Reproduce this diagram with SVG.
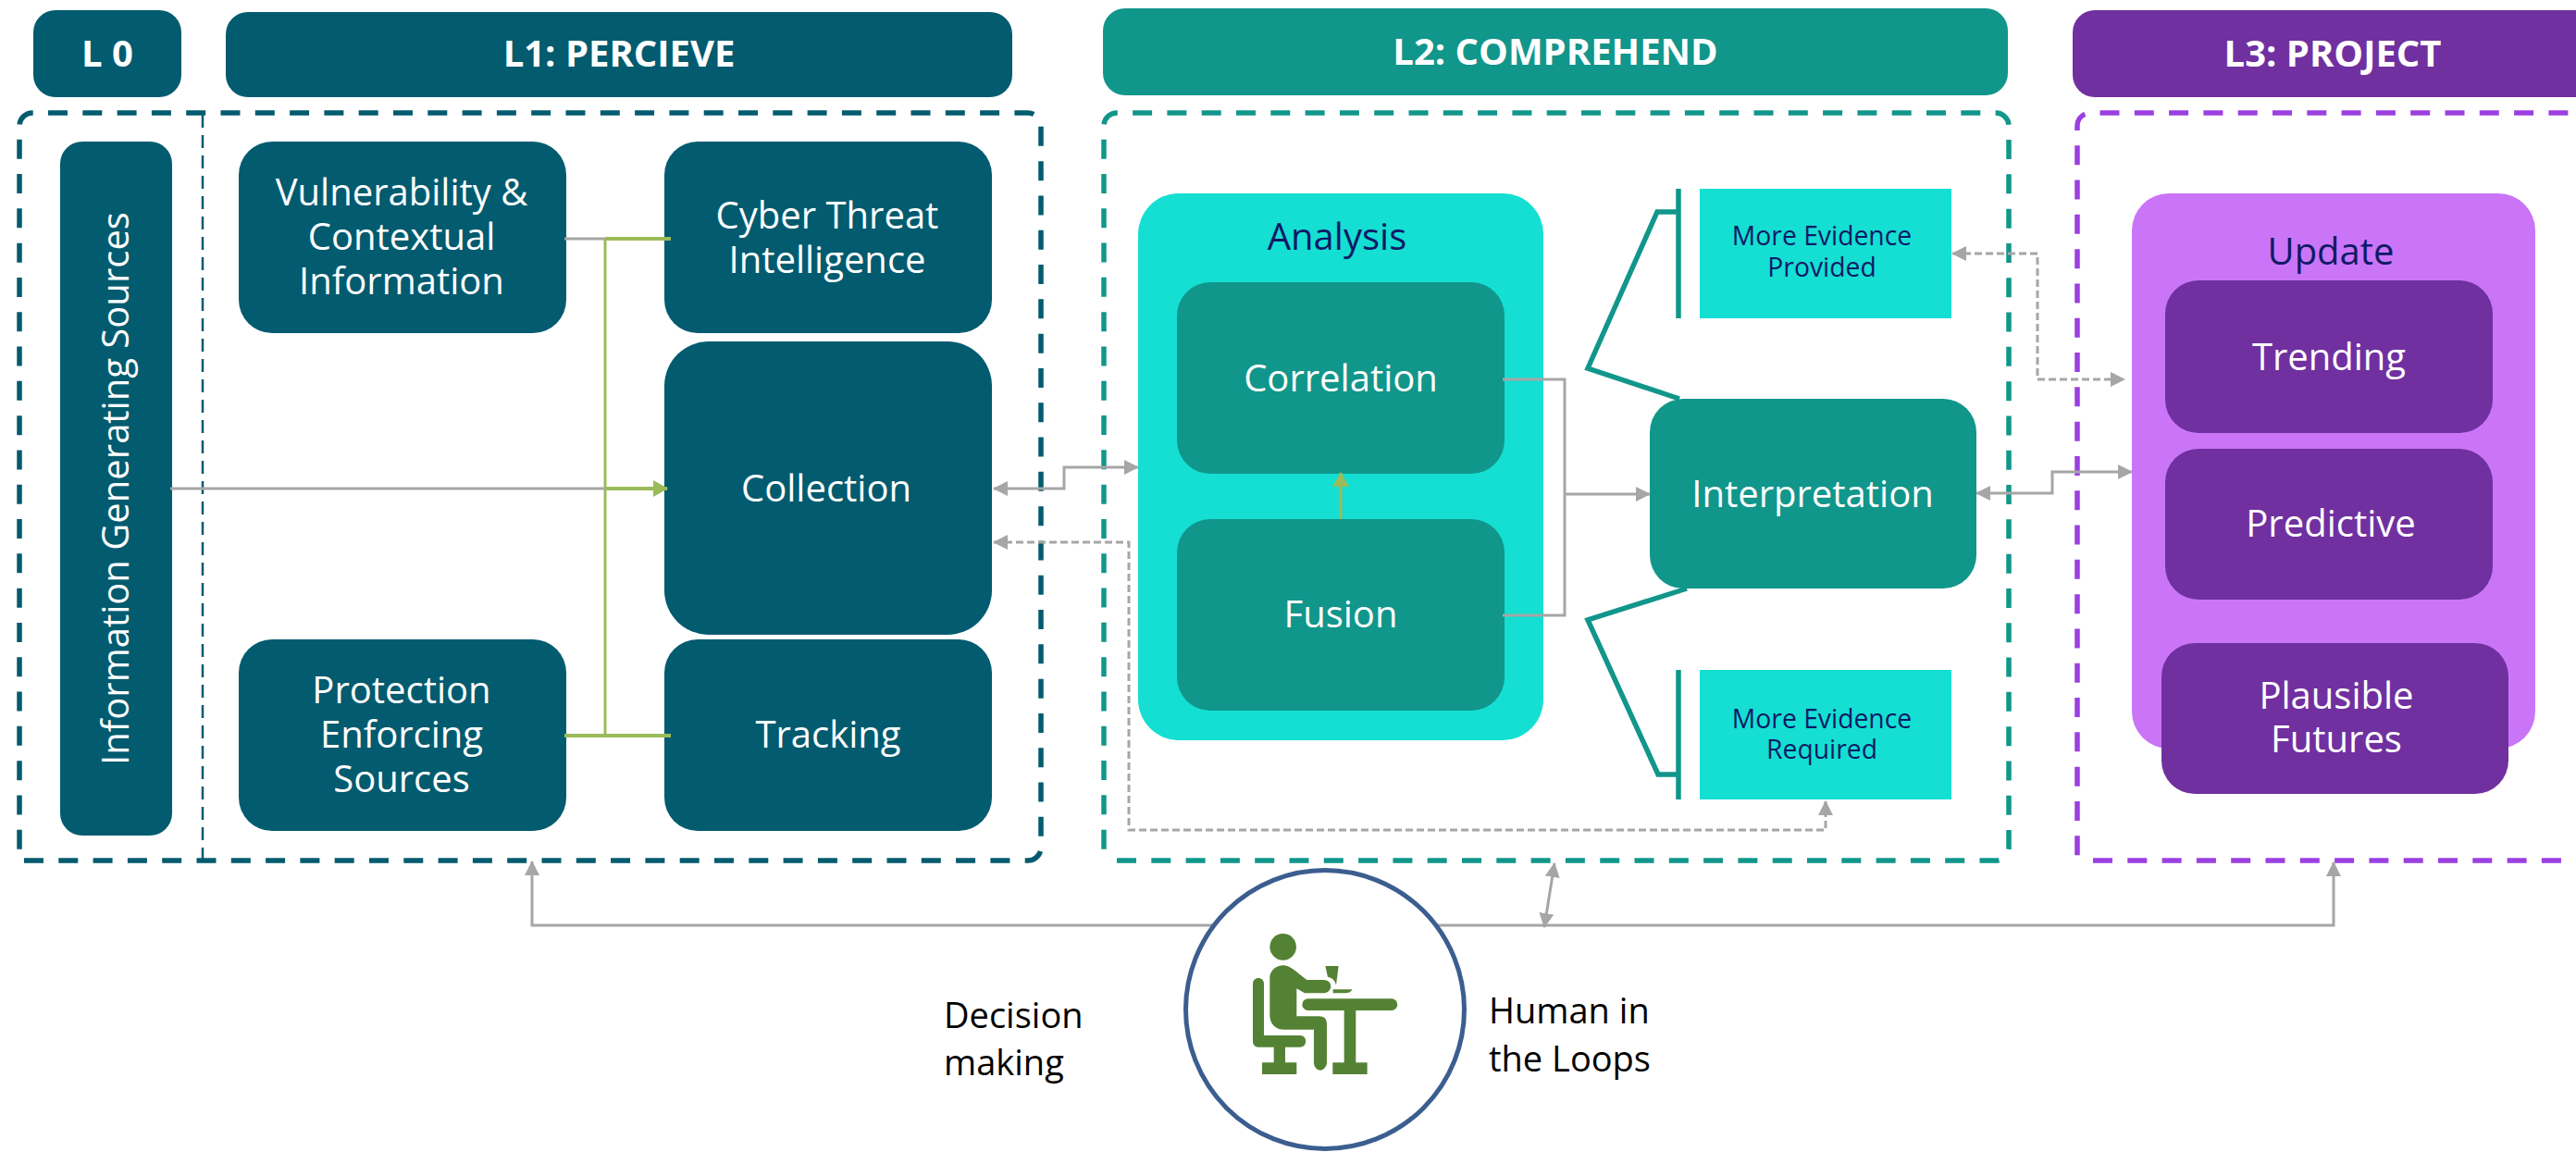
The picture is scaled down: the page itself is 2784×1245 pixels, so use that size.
<svg xmlns="http://www.w3.org/2000/svg" width="2784" height="1245" viewBox="0 0 2784 1245">
<style>
text{font-family:"Open Sans","Noto Sans","Liberation Sans",sans-serif;text-anchor:middle}
.w{fill:#fff;font-size:40px}
.h{fill:#fff;font-size:40px;font-weight:700}
.n{fill:#0f1a66;font-size:28.3px}
.m{fill:#0f1a66;font-size:40px}
.b{fill:#000;font-size:38px;text-anchor:start}
.c1{fill:#025b6f}.c2{fill:#11968b}.c3{fill:#7030a0}.t{fill:#14dfd2}.p{fill:#ca75f7}
.g{fill:none;stroke:#a6a6a6;stroke-width:3}
.d{fill:none;stroke:#a6a6a6;stroke-width:3;stroke-dasharray:8 4}
.l{fill:none;stroke:#9bbb59;stroke-width:3}
.lt{fill:none;stroke:#9bbb59;stroke-width:4}
.box{fill:none;stroke-width:5.5;stroke-dasharray:21 16.3}
.ic{fill:#548235}
</style>
<defs>
<marker id="a" markerWidth="16" markerHeight="16" refX="15" refY="8" orient="auto-start-reverse" markerUnits="userSpaceOnUse"><path d="M0 0L16 8L0 16z" fill="#a6a6a6"/></marker>
<marker id="gr" markerWidth="16" markerHeight="18" refX="15" refY="9" orient="auto" markerUnits="userSpaceOnUse"><path d="M0 0L16 9L0 18z" fill="#9bbb59"/></marker>
</defs>
<rect width="2784" height="1245" fill="#fff"/>

<g id="containers">
<path class="box" d="M26 930H1111A14 14 0 0 0 1125 916V136A14 14 0 0 0 1111 122H35A14 14 0 0 0 21 136V925" stroke="#025b6f"/>
<path class="box" d="M1207 930H2157A14 14 0 0 0 2171 916V136A14 14 0 0 0 2157 122H1207A14 14 0 0 0 1193 136V925" stroke="#11968b"/>
<path class="box" d="M2262 930H2850M2850 122H2259A14 14 0 0 0 2245 136V925" stroke="#9b3fe0"/>
<line x1="219" y1="124" x2="219" y2="930" stroke="#025b6f" stroke-width="2.5" stroke-dasharray="14 8"/>
</g>

<g id="header-l0"><rect class="c1" x="36" y="11" width="160" height="94" rx="24"/><text class="h" x="116" y="72">L 0</text></g>
<g id="header-l1"><rect class="c1" x="244" y="13" width="850" height="92" rx="24"/><text class="h" x="669" y="72">L1: PERCIEVE</text></g>
<g id="header-l2"><rect class="c2" x="1192" y="9" width="978" height="94" rx="24"/><text class="h" x="1681" y="70">L2: COMPREHEND</text></g>
<g id="header-l3"><rect class="c3" x="2240" y="11" width="600" height="94" rx="24"/><text class="h" x="2521" y="72">L3: PROJECT</text></g>

<g id="info-sources"><rect class="c1" x="65" y="153" width="121" height="750" rx="24"/><text class="w" transform="translate(139,528) rotate(-90)">Information Generating Sources</text></g>
<g id="vulnerability"><rect class="c1" x="258" y="153" width="354" height="207" rx="36"/><text class="w"><tspan x="434" y="222">Vulnerability &amp;</tspan><tspan x="434" y="270">Contextual</tspan><tspan x="434" y="318">Information</tspan></text></g>
<g id="cti"><rect class="c1" x="718" y="153" width="354" height="207" rx="36"/><text class="w"><tspan x="894" y="247">Cyber Threat</tspan><tspan x="894" y="295">Intelligence</tspan></text></g>
<g id="collection"><rect class="c1" x="718" y="369" width="354" height="317" rx="48"/><text class="w" x="893" y="542">Collection</text></g>
<g id="protection"><rect class="c1" x="258" y="691" width="354" height="207" rx="36"/><text class="w"><tspan x="434" y="760">Protection</tspan><tspan x="434" y="808">Enforcing</tspan><tspan x="434" y="856">Sources</tspan></text></g>
<g id="tracking"><rect class="c1" x="718" y="691" width="354" height="207" rx="36"/><text class="w" x="895" y="808">Tracking</text></g>

<g id="analysis"><rect class="t" x="1230" y="209" width="438" height="591" rx="44"/><text class="m" x="1445" y="270">Analysis</text></g>
<g id="correlation"><rect class="c2" x="1272" y="305" width="354" height="207" rx="36"/><text class="w" x="1449" y="423">Correlation</text></g>
<g id="fusion"><rect class="c2" x="1272" y="561" width="354" height="207" rx="36"/><text class="w" x="1449" y="678">Fusion</text></g>
<g id="interpretation"><rect class="c2" x="1783" y="431" width="353" height="205" rx="36"/><text class="w" x="1959" y="548">Interpretation</text></g>
<g id="evidence-provided"><rect class="t" x="1837" y="204" width="272" height="140"/><text class="n"><tspan x="1969" y="265">More Evidence</tspan><tspan x="1969" y="299">Provided</tspan></text></g>
<g id="evidence-required"><rect class="t" x="1837" y="724" width="272" height="140"/><text class="n"><tspan x="1969" y="787">More Evidence</tspan><tspan x="1969" y="820">Required</tspan></text></g>

<g id="update"><rect class="p" x="2304" y="209" width="436" height="600" rx="40"/><text class="m" x="2519" y="286">Update</text></g>
<g id="trending"><rect class="c3" x="2340" y="303" width="354" height="165" rx="36"/><text class="w" x="2517" y="400">Trending</text></g>
<g id="predictive"><rect class="c3" x="2340" y="485" width="354" height="163" rx="36"/><text class="w" x="2519" y="580">Predictive</text></g>
<g id="plausible"><rect class="c3" x="2336" y="695" width="375" height="163" rx="36"/><text class="w"><tspan x="2525" y="766">Plausible</tspan><tspan x="2525" y="813">Futures</tspan></text></g>

<g id="callouts" fill="none" stroke="#11968b" stroke-width="5.5">
<path d="M1814 204V344M1814 229H1791L1716 398L1815 431"/>
<path d="M1814 724V864M1814 837H1792L1716 670L1823 636"/>
</g>

<g id="connectors">
<path class="g" d="M610 258H654"/><path class="l" d="M654 258V795"/><path class="lt" d="M654 258H725M610 795H725"/>
<path class="g" d="M184 528H654"/><path class="lt" d="M654 528H721" marker-end="url(#gr)"/>
<path class="g" d="M1074 528H1150V505H1230" marker-start="url(#a)" marker-end="url(#a)"/>
<path class="d" d="M1074 586H1220V897H1973V866" marker-start="url(#a)" marker-end="url(#a)"/>
<path class="l" d="M1449 561V511" marker-end="url(#gr)"/>
<path class="g" d="M1624 410H1691V665H1624M1691 534H1783" marker-end="url(#a)"/>
<path class="g" d="M2136 533H2218V510H2304" marker-start="url(#a)" marker-end="url(#a)"/>
<path class="d" d="M2110 274H2202V410H2296" marker-start="url(#a)" marker-end="url(#a)"/>
<path class="g" d="M575 931V1000H2522V932" marker-start="url(#a)" marker-end="url(#a)"/>
<path class="g" d="M1669 1002L1680 933" marker-start="url(#a)" marker-end="url(#a)"/>
</g>

<g id="human">
<circle cx="1432" cy="1091" r="150.5" fill="#fff" stroke="#3b5e8f" stroke-width="5"/>
<g transform="translate(1180 880) scale(.3333)" class="ic">
<circle cx="620" cy="430" r="43"/>
<path d="M620 490C640 490 650 500 697 537H750C770 537 775 550 775 558C775 570 765 580 750 580H690L664 565V655H735C755 655 762 665 762 680V805C762 820 750 830 741 830C730 830 720 820 720 805V698H625C595 698 577 680 577 650V530C577 505 600 490 620 490Z"/>
<path d="M757 492H800L792 555C790 540 780 530 765 527Z"/>
<path d="M782 568H844C840 578 830 580 820 580H782Z"/>
<rect x="682" y="598" width="309" height="38" rx="19"/>
<rect x="818" y="630" width="38" height="180"/>
<rect x="781" y="805" width="112" height="38"/>
<path d="M522 550C522 525 558 525 558 550V717H675C700 717 700 755 675 755H627V805H664V843H552V805H590V755H540C528 755 522 747 522 735Z"/>
</g>
<text class="b"><tspan x="1020" y="1111">Decision</tspan><tspan x="1020" y="1162">making</tspan></text>
<text class="b"><tspan x="1609" y="1106">Human in</tspan><tspan x="1609" y="1158">the Loops</tspan></text>
</g>
</svg>
